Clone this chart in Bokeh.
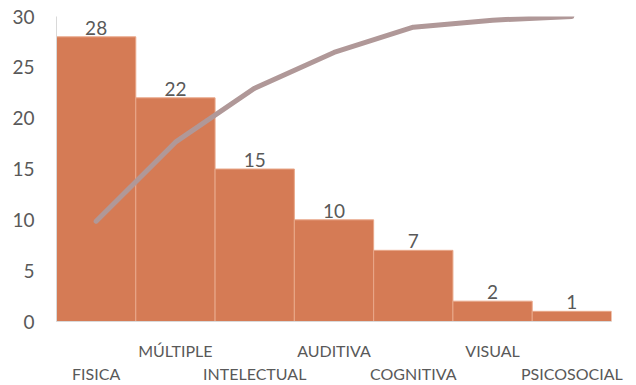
from bokeh.plotting import figure
from bokeh.models import Range1d, LinearAxis, FixedTicker, ColumnDataSource
from bokeh.core.properties import value
from bokeh.embed import file_html
from bokeh.resources import INLINE

# Disability types and counts (Pareto order)
categories = ["FISICA", "MÚLTIPLE", "INTELECTUAL", "AUDITIVA", "COGNITIVA", "VISUAL", "PSICOSOCIAL"]
counts = [28, 22, 15, 10, 7, 2, 1]
# Cumulative percentage of the total
cumulative_pct = [32.9, 58.8, 76.5, 88.2, 96.5, 98.8, 100.0]
y_ticks = [0, 5, 10, 15, 20, 25, 30]

positions = list(range(len(categories)))
src = ColumnDataSource(dict(
    x=positions,
    count=counts,
    label=[str(c) for c in counts],
    cum=cumulative_pct,
))

FONT = "Lato"
TEXT_COLOR = "#595959"

p = figure(width=636, height=385, output_backend="svg", toolbar_location=None,
           x_range=Range1d(-0.5, len(categories) - 0.5), y_range=Range1d(0, 30),
           min_border_left=56, min_border_right=25, min_border_top=16, min_border_bottom=20,
           x_axis_location=None, y_axis_location=None)
p.outline_line_color = None
p.xgrid.visible = False
p.ygrid.visible = False
p.background_fill_color = "white"
p.border_fill_color = "white"

# secondary scale for cumulative percentage (not drawn)
p.extra_y_ranges = {"pct": Range1d(0, 100)}

# bars
p.vbar(x="x", top="count", width=1.0, source=src,
       fill_color="#D57B55", line_color="#E9A88A", line_width=1)

# value labels
p.text(x="x", y="count", text="label", source=src,
       text_align="center", text_baseline="bottom", y_offset=-2,
       text_font=value(FONT), text_font_size="19px", text_color=TEXT_COLOR)

# cumulative line
p.line(x="x", y="cum", source=src, y_range_name="pct",
       line_color="#B09898", line_width=5, line_cap="round", line_join="round")

# y axis
yaxis = LinearAxis(ticker=FixedTicker(ticks=y_ticks))
yaxis.axis_line_color = "#D9D9D9"
yaxis.major_tick_line_color = None
yaxis.minor_tick_line_color = None
yaxis.major_label_standoff = 16
yaxis.major_label_text_font = FONT
yaxis.major_label_text_font_size = "19px"
yaxis.major_label_text_color = TEXT_COLOR
p.add_layout(yaxis, "left")

# x axis with staggered category labels
xaxis = LinearAxis(ticker=FixedTicker(ticks=positions))
overrides = {}
for i, name in enumerate(categories):
    overrides[i] = ("\n" + name) if i % 2 == 0 else name
xaxis.major_label_overrides = overrides
xaxis.axis_line_color = "#D9D9D9"
xaxis.major_tick_line_color = None
xaxis.minor_tick_line_color = None
xaxis.major_label_standoff = 13
xaxis.major_label_text_font = FONT
xaxis.major_label_text_font_size = "16px"
xaxis.major_label_text_color = TEXT_COLOR
xaxis.major_label_text_line_height = 1.23
p.add_layout(xaxis, "below")

open("out.html", "w").write(file_html(p, INLINE))
